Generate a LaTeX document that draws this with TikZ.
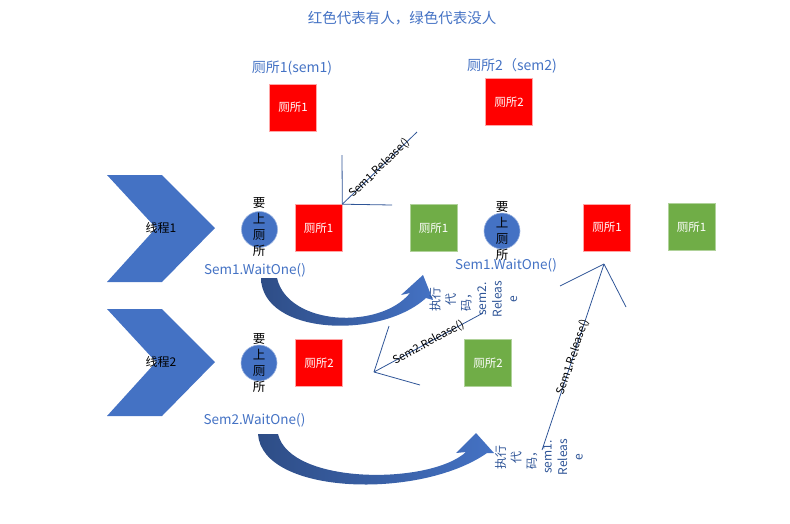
\documentclass[tikz,border=0pt]{standalone}
\usepackage{fontspec}
\setmainfont{Noto Sans CJK SC}
\definecolor{txtblue}{HTML}{4472C4}
\definecolor{lineblue}{HTML}{2F5597}
\definecolor{arrowdark}{HTML}{2E4D86}
\definecolor{boxred}{HTML}{FF0000}
\definecolor{boxgreen}{HTML}{70AD47}

\begin{document}
\begin{tikzpicture}[x=1pt, y=-1pt,
	box/.style={minimum size=47pt, inner sep=0pt, text=white, font=\fontsize{11.5}{12}\selectfont},
	redbox/.style={box, fill=boxred, draw=red!35!white, line width=0.6pt},
	greenbox/.style={box, fill=boxgreen, draw=boxgreen!55!white, line width=0.6pt},
	person/.style={circle, fill=txtblue, draw=txtblue!55!white, line width=0.6pt, minimum size=36pt, inner sep=0pt},
	walk/.style={align=center, inner sep=0pt, font=\fontsize{12.5}{15.7}\selectfont},
	bluetext/.style={text=txtblue, font=\fontsize{13.5}{16}\selectfont},
	sign/.style={draw=lineblue, line width=0.8pt},
	release/.style={midway, sloped, inner sep=0pt, font=\fontsize{11}{12}\selectfont},
	doing/.style={rotate=90, align=center, inner sep=0pt, text=lineblue, font=\fontsize{12}{15.5}\selectfont},
	thread/.style={fill=txtblue},
	curl/.style={left color=arrowdark, right color=txtblue}
	]
	
	\useasboundingbox (0,0) rectangle (790,523);
	
	% Title and toilet names
	\node[text=txtblue, font=\fontsize{14.5}{16}\selectfont] (title) at (402,18) {红色代表有人，绿色代表没人};
	\node[bluetext, font=\fontsize{14}{16}\selectfont] (name1) at (292,68) {厕所1(sem1)};
	\node[bluetext, font=\fontsize{14}{16}\selectfont] (name2) at (512,66) {厕所2（sem2)};
	
	% Toilet boxes
	\node[redbox] (top1) at (293,107.5) {厕所1};
	\node[redbox] (top2) at (509,102) {厕所2};
	\node[redbox] (busy1) at (318.5,228) {厕所1};
	\node[greenbox] (free1) at (433.5,228) {厕所1};
	\node[redbox] (busy1b) at (607,227.5) {厕所1};
	\node[greenbox] (free1b) at (691.5,227) {厕所1};
	\node[redbox] (busy2) at (319,363) {厕所2};
	\node[greenbox] (free2) at (488,363) {厕所2};
	
	% Threads
	\fill[thread] (107,175) -- (162,175) -- (215,228) -- (162,282) -- (107,282) -- (156,228) -- cycle;
	\fill[thread] (107,309) -- (162,309) -- (215,362) -- (162,416) -- (107,416) -- (156,362) -- cycle;
	\node[font=\fontsize{12}{14}\selectfont] (thread1) at (161,228) {线程1};
	\node[font=\fontsize{12}{14}\selectfont] (thread2) at (161,362) {线程2};
	
	% People waiting
	\node[person] (p1) at (259.5,229.5) {};
	\node[walk] (w1) at (259,227) {要\\上\\厕\\所};
	\node[person] (p2) at (502,231) {};
	\node[walk] (w2) at (502,231) {要\\上\\厕\\所};
	\node[person] (p3) at (259,363) {};
	\node[walk] (w3) at (259,363) {要\\上\\厕\\所};
	
	\node[bluetext] (wait1) at (255,270) {Sem1.WaitOne()};
	\node[bluetext] (wait1b) at (506,265) {Sem1.WaitOne()};
	\node[bluetext] (wait2) at (254.5,420) {Sem2.WaitOne()};
	
	% Curved arrows
	\shade[curl] (261,278) .. controls (262,335) and (380,340) .. (426,298)
		-- (433,300) -- (423,275) -- (401,295) -- (410,293)
		.. controls (380,330) and (288,326) .. (277,278) -- cycle;
	\shade[curl] (258,434) .. controls (262,495) and (420,500) .. (487,453)
		-- (494,453) -- (476,433) -- (456,453) -- (466,452)
		.. controls (430,485) and (290,485) .. (278,434) -- cycle;
	
	\node[doing] (run2) at (473.5,299) {执行\\代\\码，\\sem2.\\Releas\\e};
	\node[doing] (run1) at (539,457) {执行\\代\\码，\\sem1.\\Releas\\e};
	
	% Release signs
	\coordinate (up1) at (342,155);
	\coordinate (right1) at (392,205);
	\coordinate (diag1) at (417,132);
	\draw[sign] (busy1.north east) -- (up1);
	\draw[sign] (busy1.north east) -- (right1);
	\draw[sign] (busy1.north east) -- node[release] {Sem1.Release()} (diag1);
	
	\coordinate (c2) at (374,372);
	\coordinate (up2) at (389,326);
	\coordinate (down2) at (420,385);
	\coordinate (diag2) at (483,313);
	\draw[sign] (c2) -- (up2);
	\draw[sign] (c2) -- (down2);
	\draw[sign] (c2) -- node[release] {Sem2.Release()} (diag2);
	
	\coordinate (c3) at (604,264);
	\coordinate (left3) at (560,286);
	\coordinate (right3) at (626,307);
	\coordinate (tail3) at (542,450);
	\draw[sign] (c3) -- (left3);
	\draw[sign] (c3) -- (right3);
	\draw[sign] (tail3) -- node[release] {Sem1.Release()} (c3);
	
\end{tikzpicture}
\end{document}
